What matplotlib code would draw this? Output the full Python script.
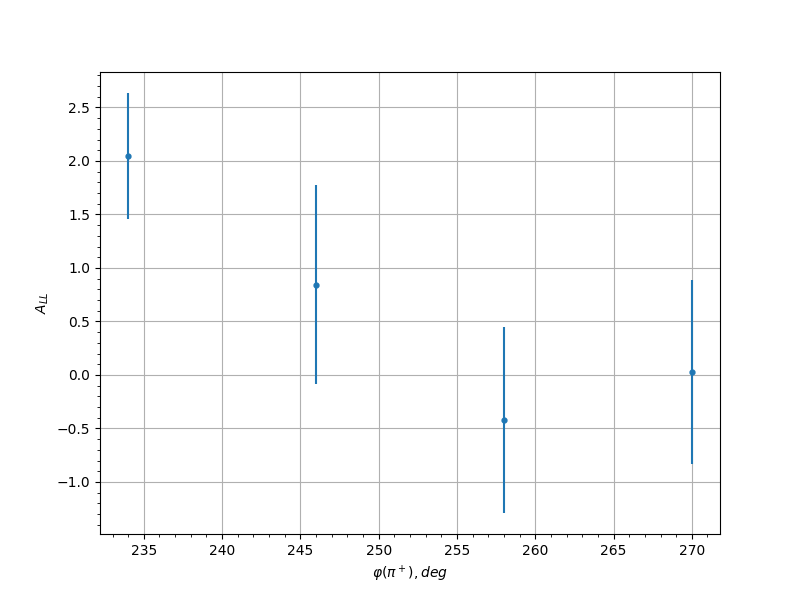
import matplotlib
matplotlib.use('Agg')
import matplotlib.pyplot as plt

phi = [234, 246, 258, 270]
a_ll = [2.045, 0.845, -0.42, 0.03]
a_ll_err = [0.59, 0.93, 0.87, 0.86]

fig, ax = plt.subplots(figsize=(8, 6), dpi=100)
ax.errorbar(phi, a_ll, yerr=a_ll_err, fmt='o', markersize=3.5, color='tab:blue')
ax.set_xlabel(r'$\varphi(\pi^+), deg$')
ax.set_ylabel(r'$A_{LL}$')
ax.minorticks_on()
ax.grid(True, which='major')

fig.savefig('out.png')
